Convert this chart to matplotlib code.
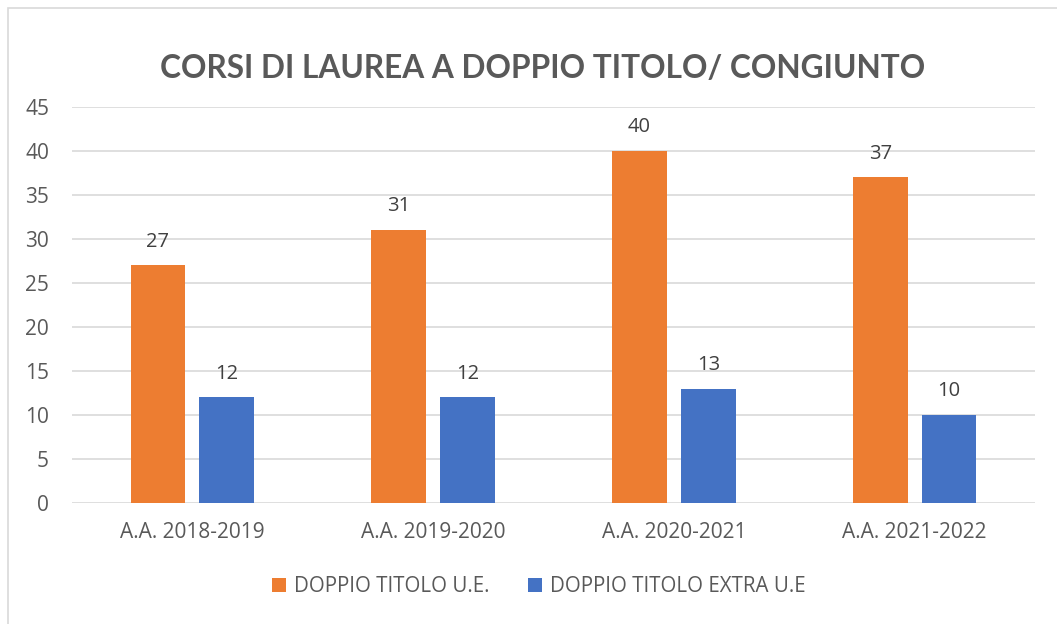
import numpy as np
import matplotlib.pyplot as plt
from matplotlib.patches import Rectangle

categories = ['A.A. 2018-2019', 'A.A. 2019-2020', 'A.A. 2020-2021', 'A.A. 2021-2022']
doppio_ue = [27, 31, 40, 37]
doppio_extra_ue = [12, 12, 13, 10]
series_names = ['DOPPIO TITOLO U.E.', 'DOPPIO TITOLO EXTRA U.E']

plt.rcParams['font.family'] = ['Open Sans', 'DejaVu Sans']
grey = '#595959'

fig = plt.figure(figsize=(10.57, 6.24), dpi=100)
ax = fig.add_axes([72 / 1057, 1 - 503 / 624, (1035 - 72) / 1057, (503 - 107) / 624])

# cornice del grafico
fig.patches.append(Rectangle((8 / 1057, -0.1), 1.2, 1 - 8 / 624 + 0.1, transform=fig.transFigure,
                             fill=False, edgecolor='#D9D9D9', linewidth=1.2))

x = np.arange(len(categories))
w = 0.228
off = 0.143
b1 = ax.bar(x - off, doppio_ue, w, color='#ED7D31', label=series_names[0], zorder=3)
b2 = ax.bar(x + off, doppio_extra_ue, w, color='#4472C4', label=series_names[1], zorder=3)

for bars in (b1, b2):
    for r in bars:
        ax.annotate(f'{int(r.get_height())}', (r.get_x() + r.get_width() / 2, r.get_height()),
                    xytext=(0, 10), textcoords='offset points', ha='center', va='bottom',
                    fontsize=14.5, color='#404040')

ax.set_xlim(-0.5, len(categories) - 0.5)
ax.set_ylim(0, 45)
ax.set_yticks(range(0, 50, 5))
ax.set_xticks(x)
ax.set_xticklabels(categories)
ax.yaxis.grid(True, color='#D9D9D9', linewidth=1.2, zorder=0)
ax.set_axisbelow(True)
for s in ax.spines.values():
    s.set_visible(False)
ax.tick_params(axis='both', length=0, labelsize=15, colors=grey)
ax.tick_params(axis='y', pad=16.5)
ax.tick_params(axis='x', pad=14)

fig.text(0.5 * (160 + 925) / 1057, 1 - 68 / 624, 'CORSI DI LAUREA A DOPPIO TITOLO/ CONGIUNTO',
         ha='center', va='center', fontsize=22.8, fontweight='bold', color=grey, family='Lato')

fig.legend(handles=[b1, b2], loc='center', bbox_to_anchor=(0.5 * (268 + 810) / 1057, 1 - 587 / 624),
           ncol=2, frameon=False, fontsize=14.8, labelcolor=grey, handlelength=0.65, handleheight=0.65,
           handletextpad=0.4, columnspacing=1.9)

fig.savefig('out.png', dpi=100)
